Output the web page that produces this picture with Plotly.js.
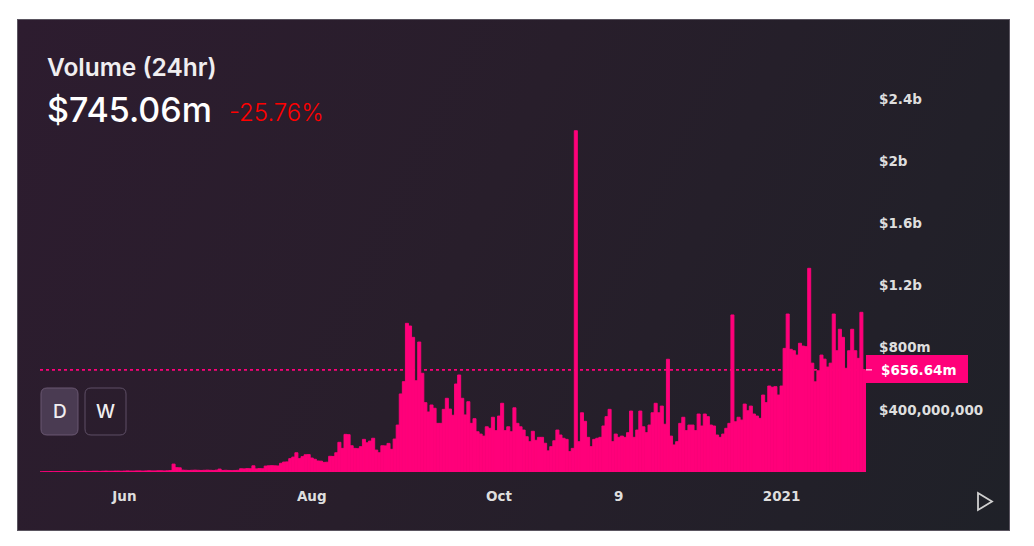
<!DOCTYPE html>
<html>
<head>
<meta charset="utf-8">
<script src="https://cdn.plot.ly/plotly-3.0.1.min.js"></script>
<style>
  html, body { margin:0; padding:0; background:#ffffff; width:1034px; height:546px; overflow:hidden; }
  #card { position:absolute; left:17px; top:19px; width:993px; height:512px;
          background: linear-gradient(115deg, #2d1c2f 0%, #281e2b 45%, #1f2128 100%);
          border:1px solid #5a5560; box-sizing:border-box; }
  #chart { position:absolute; left:0; top:0; width:1034px; height:546px; }
</style>
</head>
<body>
<div id="card"></div>
<div id="chart"></div>
<script>
// ---- data (daily volume, millions of USD) ----
const START_DATE = [2020, 4, 5]; // 2020-05-05 (UTC, month 0-based)
const volumeEarly = [1,2,2,3,2,3,3,4,3,3, 4,4,3,4,5,4,4,5,5,4, 5,6,5,5,6,6,5,6,7,6, 6,7,7,6,7,8,7,7,8,8, 7,8,9];
const volumeSummer = [51,28,27,12,11,10,11,12,11,10,11,12,11,10,12,19,10,11,10,9,10,11,21,20,22,21,40,20,22,21,
  38,40,41,40,39,56,64,65,86,96,124,86,99,111,112,90,82,71,70,62,63,101,100,124,191,152,242,240,169,152,150,
  163,210,188,199,217,141,124,169,168,184,146,212,302];
const volumeSept = [502,581,956,939,866,587,836,635,446,386,431,410,313,313,403,474,405,365,566,624,474,367,452,313,343,
  259,244,231,291,281,352,266,360,442,266,291,259,413,313,291,270,227,195];
const volumeAutumn = [262,204,223,223,185,136,163,201,270,238,217,210,131,152,2195,195,381,326,223,163,
  210,217,223,296,356,403,195,244,223,231,223,253,392,223,270,392,291,253,302,381,
  442,381,424,307,725,231,174,195,313,352,266,302,302,266,373];
const volumeWinter = [296,373,356,302,296,238,223,244,281,313,1010,323,352,334,437,394,424,373,360,345,
  495,446,553,545,549,495,553,795,1016,789,780,752,828,810,806,1310,700,580,651,752,
  726,675,700,1016,780,918,866,667,780,918,780,731,1027,656.64];

const xTickDates = ['2020-06-01','2020-08-01','2020-10-01','2020-11-09','2021-01-01'];
const xTickText = ['Jun','Aug','Oct','9','2021'];
const yTickVals = [400,800,1200,1600,2000,2400];
const yTickText = ['$400,000,000','$800m','$1.2b','$1.6b','$2b','$2.4b'];

const headerTitle = 'Volume (24hr)';
const headerValue = '$745.06m';
const headerChange = '-25.76%';
const lastValue = 656.64;
const lastLabel = '$656.64m';
const periodButtons = ['D','W'];

// ---- build series ----
const volume = [].concat(volumeEarly, volumeSummer, volumeSept, volumeAutumn, volumeWinter);
const dates = volume.map((_, i) => {
  const d = new Date(Date.UTC(START_DATE[0], START_DATE[1], START_DATE[2] + i));
  return d.toISOString().slice(0,10);
});
function shiftDay(s, h) { const d = new Date(s + 'T00:00:00Z'); d.setUTCHours(d.getUTCHours() + h); return d.toISOString().slice(0,19).replace('T',' '); }

// ---- layout geometry (pixels) ----
const W = 1034, H = 546;
const L = 40, R = 866, T = 60, B = 472;
const pxX = x => (x - L) / (R - L);
const pxY = y => (B - y) / (B - T);
const PINK = '#ff007a';
const AXIS_FONT = { family: 'DejaVu Sans, sans-serif', size: 13.5, color: '#dedede', weight: 'bold' };

function rrect(x0, y0, x1, y1, r) {
  const p = (x, y) => pxX(x).toFixed(5) + ',' + pxY(y).toFixed(5);
  return 'M' + p(x0 + r, y0) + ' L' + p(x1 - r, y0) + ' Q' + p(x1, y0) + ' ' + p(x1, y0 + r) +
         ' L' + p(x1, y1 - r) + ' Q' + p(x1, y1) + ' ' + p(x1 - r, y1) +
         ' L' + p(x0 + r, y1) + ' Q' + p(x0, y1) + ' ' + p(x0, y1 - r) +
         ' L' + p(x0, y0 + r) + ' Q' + p(x0, y0) + ' ' + p(x0 + r, y0) + ' Z';
}

const yMax = (B - T) * 400 / 62.2;

const trace = {
  type: 'bar', x: dates, y: volume,
  marker: { color: PINK, line: { width: 0.9, color: PINK } },
  hoverinfo: 'skip'
};

const shapes = [
  { type: 'line', xref: 'paper', yref: 'y', x0: 0, x1: 1, y0: lastValue, y1: lastValue,
    line: { color: PINK, width: 1.6, dash: '3px,3px' } },
  { type: 'rect', xref: 'paper', yref: 'paper', x0: pxX(866), x1: pxX(968), y0: pxY(383), y1: pxY(355),
    fillcolor: PINK, line: { width: 0 } },
  { type: 'line', xref: 'paper', yref: 'y', x0: pxX(866), x1: pxX(872), y0: lastValue, y1: lastValue,
    line: { color: '#ffffff', width: 1 } },
  { type: 'path', xref: 'paper', yref: 'paper', path: rrect(41, 388, 78, 435, 6),
    fillcolor: '#4a3b52', line: { color: '#6a5872', width: 1 } },
  { type: 'path', xref: 'paper', yref: 'paper', path: rrect(85, 388, 126, 435, 6),
    fillcolor: 'rgba(0,0,0,0)', line: { color: '#5e4f66', width: 1 } },
  { type: 'path', xref: 'paper', yref: 'paper',
    path: 'M' + pxX(978) + ',' + pxY(493) + ' L' + pxX(992) + ',' + pxY(501.5) + ' L' + pxX(978) + ',' + pxY(510) + ' Z',
    fillcolor: 'rgba(0,0,0,0)', line: { color: '#d0d0d0', width: 1.8 } }
];

const annotations = [
  { text: headerTitle, xref: 'paper', yref: 'paper', x: pxX(45), y: pxY(67), xanchor: 'left', yanchor: 'middle',
    showarrow: false, font: { family: 'Inter, Roboto, sans-serif', size: 24.5, color: '#f0eef0', weight: 600 } },
  { text: headerValue, xref: 'paper', yref: 'paper', x: pxX(45), y: pxY(110), xanchor: 'left', yanchor: 'middle',
    showarrow: false, font: { family: 'Inter, Roboto, sans-serif', size: 34, color: '#ffffff', weight: 500 } },
  { text: headerChange, xref: 'paper', yref: 'paper', x: pxX(227), y: pxY(112), xanchor: 'left', yanchor: 'middle',
    showarrow: false, font: { family: 'Inter, Roboto, sans-serif', size: 24, color: '#ff0000', weight: 300 } },
  { text: lastLabel, xref: 'paper', yref: 'y', x: pxX(879), y: lastValue, xanchor: 'left', yanchor: 'middle',
    showarrow: false, font: { family: 'DejaVu Sans, sans-serif', size: 13.5, color: '#ffffff', weight: 'bold' } },
  { text: periodButtons[0], xref: 'paper', yref: 'paper', x: pxX(59.5), y: pxY(411.5), xanchor: 'center', yanchor: 'middle',
    showarrow: false, font: { family: 'Inter, Roboto, sans-serif', size: 19, color: '#f0eef0', weight: 500 } },
  { text: periodButtons[1], xref: 'paper', yref: 'paper', x: pxX(105.5), y: pxY(411.5), xanchor: 'center', yanchor: 'middle',
    showarrow: false, font: { family: 'Inter, Roboto, sans-serif', size: 19, color: '#f0eef0', weight: 500 } }
];

const layout = {
  width: W, height: H,
  margin: { l: L, r: W - R, t: T, b: H - B, pad: 0 },
  paper_bgcolor: 'rgba(0,0,0,0)', plot_bgcolor: 'rgba(0,0,0,0)',
  showlegend: false, bargap: 0,
  xaxis: {
    type: 'date', range: [shiftDay(dates[0], -12), shiftDay(dates[dates.length - 1], 12)],
    tickmode: 'array', tickvals: xTickDates, ticktext: xTickText,
    showgrid: false, zeroline: false, showline: false, ticks: '',
    ticklabelstandoff: 14,
    tickfont: AXIS_FONT
  },
  yaxis: {
    side: 'right', range: [0, yMax],
    tickmode: 'array', tickvals: yTickVals, ticktext: yTickText,
    showgrid: false, zeroline: false, showline: false, ticks: '',
    ticklabelstandoff: 12,
    tickfont: AXIS_FONT
  },
  shapes: shapes,
  annotations: annotations
};

Plotly.newPlot('chart', [trace], layout, { staticPlot: true, displayModeBar: false });
</script>
</body>
</html>
